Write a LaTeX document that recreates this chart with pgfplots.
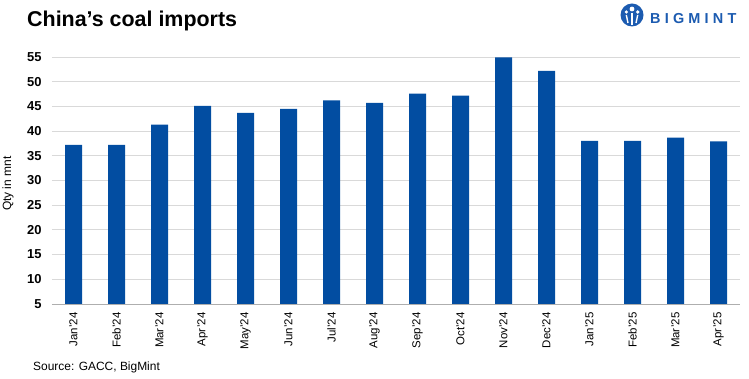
\documentclass[border=0pt]{standalone}
\usepackage{pgfplots}
\pgfplotsset{compat=1.18}
\usepackage{fontspec}
\setmainfont{Liberation Sans}
\definecolor{barblue}{HTML}{024DA1}
\definecolor{logoblue}{HTML}{1C5BB0}
\definecolor{gridgray}{HTML}{D9D9D9}
\begin{document}
\begin{tikzpicture}[x=1bp,y=1bp]
\path[use as bounding box] (0bp,0bp) rectangle (749bp,379bp);
% title
\node[anchor=base west,inner sep=0pt,font=\fontsize{21.5}{24}\selectfont\bfseries] at (27bp,352bp) {China’s coal imports};
% logo
\fill[logoblue] (632bp,364bp) circle (11.5bp);
\fill[white] (632bp,370bp) circle (2.4bp);
\fill[white] (626.3bp,367bp) circle (1.8bp);
\fill[white] (637.7bp,367bp) circle (1.8bp);
\draw[white,line width=1.8pt] (632bp,366bp) -- (632bp,354bp);
\draw[white,line width=1.4pt] (626.3bp,364bp) -- (628bp,356bp);
\draw[white,line width=1.4pt] (637.7bp,364bp) -- (636bp,356bp);
\node[anchor=base west,inner sep=0pt,text=logoblue,font=\fontsize{14.5}{16}\selectfont\bfseries] at (650bp,355.5bp) {B\kern4.2bp I\kern4.2bp G\kern4.2bp M\kern4.2bp I\kern4.2bp N\kern4.2bp T};
% source
\node[anchor=base west,inner sep=0pt,font=\fontsize{12}{14}\selectfont] at (33bp,9bp) {Source: GACC, BigMint};
\begin{axis}[
  at={(52bp,75bp)}, anchor=south west,
  scale only axis, width=688bp, height=247bp,
  xmin=-0.5, xmax=15.5, ymin=5, ymax=55,
  ytick={5,10,...,55},
  xtick={0,...,15},
  xticklabels={Jan'24,Feb'24,Mar'24,Apr'24,May'24,Jun'24,Jul'24,Aug'24,Sep'24,Oct'24,Nov'24,Dec'24,Jan'25,Feb'25,Mar'25,Apr'25},
  x tick label style={rotate=90,anchor=east,font=\fontsize{11.5}{13}\selectfont,xshift=-5bp},
  y tick label style={font=\fontsize{13}{15}\selectfont\bfseries,anchor=east,xshift=-7bp},
  /pgf/number format/assume math mode=true,
  ymajorgrids, grid style={gridgray,line width=0.9pt},
  axis x line*=bottom, axis y line*=left,
  x axis line style={gridgray!80!black,line width=0.9pt,-},
  y axis line style={draw=none},
  major tick length=0pt,
  ylabel={Qty in mnt},
  ylabel style={font=\fontsize{12}{14}\selectfont,at={(axis description cs:-0.064,0.487)},anchor=center},
  ytick style={draw=none}, xtick style={draw=none},
  clip=false,
]
\addplot[ybar, bar width=17bp, fill=barblue, draw=none] coordinates {
(0,37.2) (1,37.2) (2,41.3) (3,45.1) (4,43.7) (5,44.5) (6,46.2) (7,45.7)
(8,47.6) (9,47.2) (10,54.9) (11,52.2) (12,38.0) (13,38.0) (14,38.7) (15,37.9)
};
\end{axis}
\end{tikzpicture}
\end{document}
